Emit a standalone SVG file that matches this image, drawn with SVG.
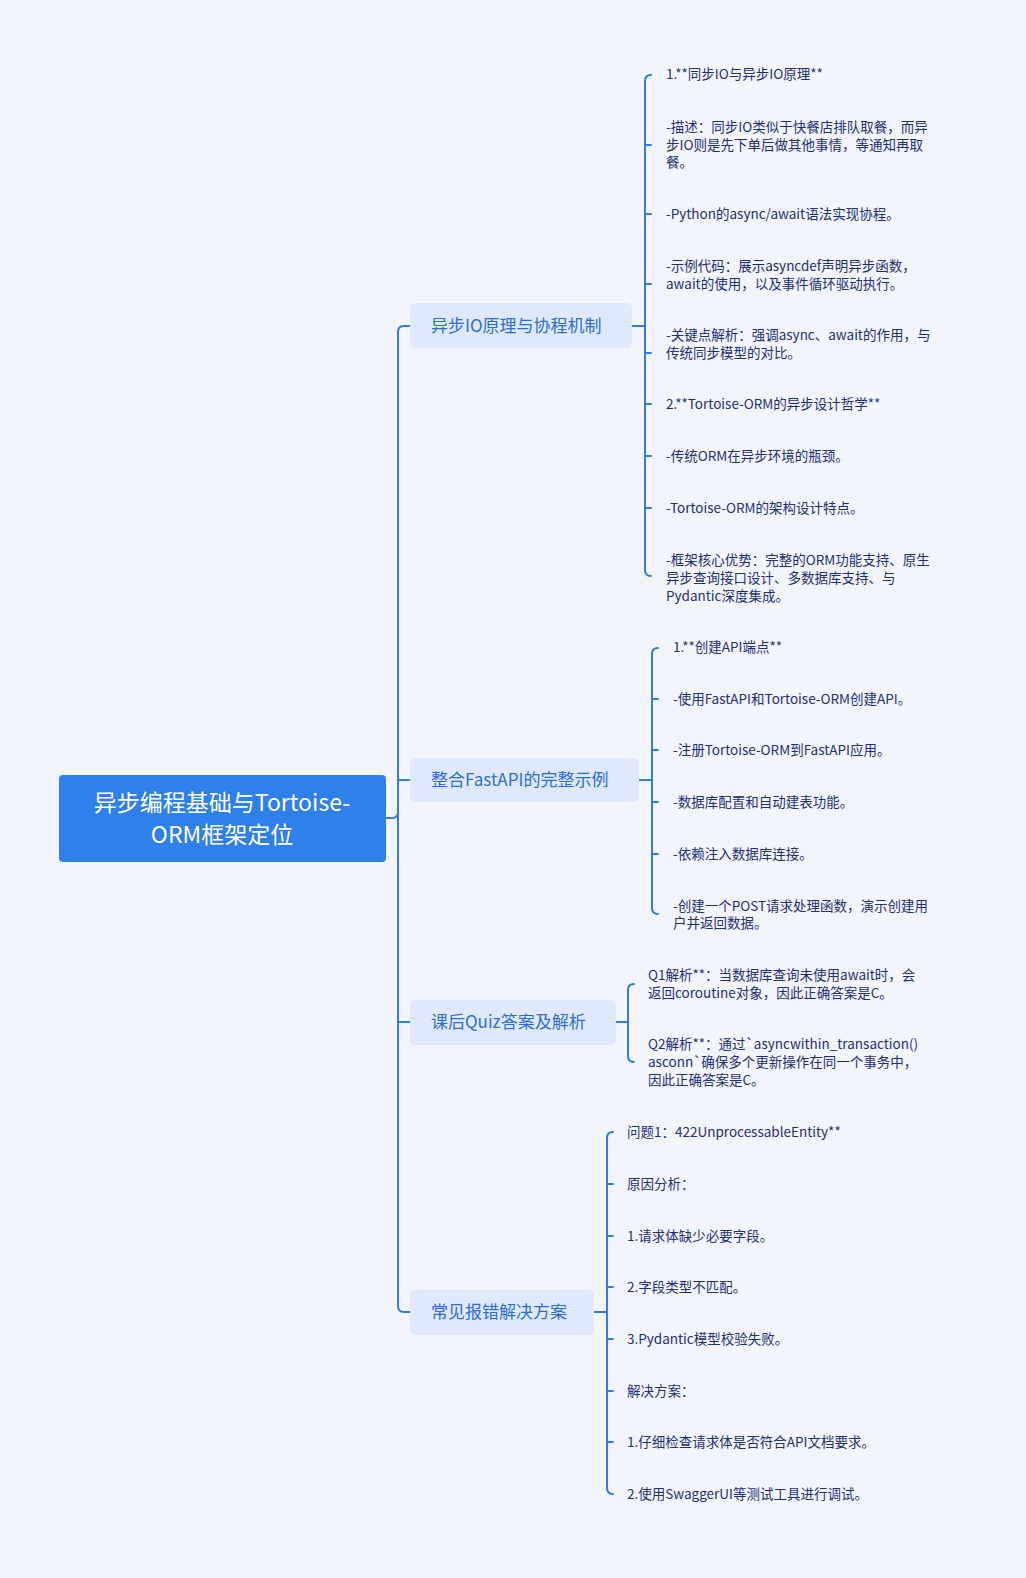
<svg xmlns="http://www.w3.org/2000/svg" width="1026" height="1578" viewBox="0 0 1026 1578">
<style>
.c{fill:none;stroke:#2f7fe3;stroke-width:2;stroke-linecap:round}
.b{fill:#e0e9fb}
.bt{font-family:"Noto Sans CJK SC","Noto Sans",sans-serif;font-size:17px;fill:#2a6fd6}
.l{font-family:"Noto Sans CJK SC","Noto Sans",sans-serif;font-size:13.5px;fill:#1c2f78}
</style>
<rect width="1026" height="1578" fill="#f3f5fc"/>
<g id="connectors">
<path class="c" d="M386 818 H392 Q398 818 398 812 V332 Q398 326 404 326 H410"/>
<path class="c" d="M398 812 V1306 Q398 1312 404 1312 H410"/>
<path class="c" d="M398 780 H410 M398 1022 H410"/>
<path class="c" d="M632 326 H645 M651 75 Q645 75 645 81 V570 Q645 576 651 576 M645 145 H651 M645 214 H651 M645 284 H651 M645 353 H651 M645 404 H651 M645 456 H651 M645 508 H651"/>
<path class="c" d="M639 780 H652 M658 648 Q652 648 652 654 V908 Q652 914 658 914 M652 699 H658 M652 750 H658 M652 802 H658 M652 854 H658"/>
<path class="c" d="M616 1022 H628 M634 984 Q628 984 628 990 V1056 Q628 1062 634 1062"/>
<path class="c" d="M594 1312 H607 M613 1132 Q607 1132 607 1138 V1488 Q607 1494 613 1494 M607 1184 H613 M607 1236 H613 M607 1287 H613 M607 1339 H613 M607 1391 H613 M607 1442 H613"/>
</g>
<g id="root"><rect x="59" y="775" width="327" height="87" rx="4" fill="#2f80e8"/>
<text font-family="Noto Sans CJK SC,Noto Sans,sans-serif" font-size="23" fill="#fff" text-anchor="middle"><tspan x="222" y="811">异步编程基础与Tortoise-</tspan><tspan x="222" y="843">ORM框架定位</tspan></text></g>
<g id="n1"><rect class="b" x="410" y="303" width="222" height="45" rx="5"/><text class="bt" x="431" y="332">异步IO原理与协程机制</text></g>
<g id="n2"><rect class="b" x="410" y="758" width="229" height="44" rx="5"/><text class="bt" x="431" y="786">整合FastAPI的完整示例</text></g>
<g id="n3"><rect class="b" x="410" y="1000" width="206" height="45" rx="5"/><text class="bt" x="431" y="1028">课后Quiz答案及解析</text></g>
<g id="n4"><rect class="b" x="410" y="1290" width="184" height="45" rx="5"/><text class="bt" x="431" y="1318">常见报错解决方案</text></g>
<g id="leaves1" class="l">
<text class="l" x="666" y="79">1.**同步IO与异步IO原理**</text>
<text class="l"><tspan x="666" y="132">-描述：同步IO类似于快餐店排队取餐，而异</tspan><tspan x="666" y="150">步IO则是先下单后做其他事情，等通知再取</tspan><tspan x="666" y="167">餐。</tspan></text>
<text class="l" x="666" y="219">-Python的async/await语法实现协程。</text>
<text class="l"><tspan x="666" y="271">-示例代码：展示asyncdef声明异步函数，</tspan><tspan x="666" y="289">await的使用，以及事件循环驱动执行。</tspan></text>
<text class="l"><tspan x="666" y="340">-关键点解析：强调async、await的作用，与</tspan><tspan x="666" y="358">传统同步模型的对比。</tspan></text>
<text class="l" x="666" y="409">2.**Tortoise-ORM的异步设计哲学**</text>
<text class="l" x="666" y="461">-传统ORM在异步环境的瓶颈。</text>
<text class="l" x="666" y="513">-Tortoise-ORM的架构设计特点。</text>
<text class="l"><tspan x="666" y="565">-框架核心优势：完整的ORM功能支持、原生</tspan><tspan x="666" y="583">异步查询接口设计、多数据库支持、与</tspan><tspan x="666" y="601">Pydantic深度集成。</tspan></text>
</g>
<g id="leaves2">
<text class="l" x="673" y="652">1.**创建API端点**</text>
<text class="l" x="673" y="704">-使用FastAPI和Tortoise-ORM创建API。</text>
<text class="l" x="673" y="755">-注册Tortoise-ORM到FastAPI应用。</text>
<text class="l" x="673" y="807">-数据库配置和自动建表功能。</text>
<text class="l" x="673" y="859">-依赖注入数据库连接。</text>
<text class="l"><tspan x="673" y="911">-创建一个POST请求处理函数，演示创建用</tspan><tspan x="673" y="928">户并返回数据。</tspan></text>
</g>
<g id="leaves3">
<text class="l"><tspan x="648" y="980">Q1解析**：当数据库查询未使用await时，会</tspan><tspan x="648" y="998">返回coroutine对象，因此正确答案是C。</tspan></text>
<text class="l"><tspan x="648" y="1049">Q2解析**：通过`asyncwithin_transaction()</tspan><tspan x="648" y="1067">asconn`确保多个更新操作在同一个事务中，</tspan><tspan x="648" y="1085">因此正确答案是C。</tspan></text>
</g>
<g id="leaves4">
<text class="l" x="627" y="1137">问题1：422UnprocessableEntity**</text>
<text class="l" x="627" y="1189">原因分析：</text>
<text class="l" x="627" y="1241">1.请求体缺少必要字段。</text>
<text class="l" x="627" y="1292">2.字段类型不匹配。</text>
<text class="l" x="627" y="1344">3.Pydantic模型校验失败。</text>
<text class="l" x="627" y="1396">解决方案：</text>
<text class="l" x="627" y="1447">1.仔细检查请求体是否符合API文档要求。</text>
<text class="l" x="627" y="1499">2.使用SwaggerUI等测试工具进行调试。</text>
</g>
</svg>
